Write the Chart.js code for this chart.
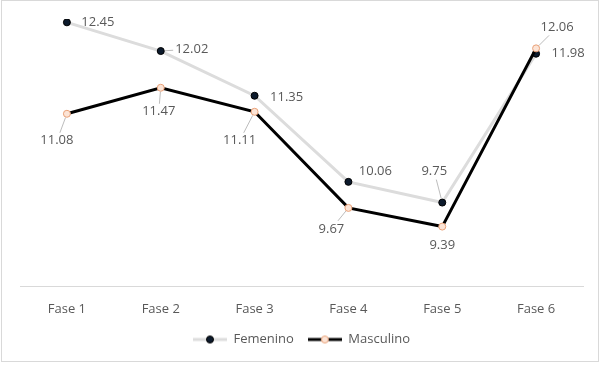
<!DOCTYPE html>
<html>
<head>
<meta charset="utf-8">
<script src="https://cdn.jsdelivr.net/npm/chart.js@4"></script>
<style>
  html, body { margin: 0; padding: 0; background: #fff; }
  #wrap { width: 603px; height: 365px; position: relative; }
</style>
</head>
<body>
<div id="wrap"><canvas id="chart"></canvas></div>
<script>
const categories = ['Fase 1', 'Fase 2', 'Fase 3', 'Fase 4', 'Fase 5', 'Fase 6']
const femenino = [12.45, 12.02, 11.35, 10.06, 9.75, 11.98]
const masculino = [11.08, 11.47, 11.11, 9.67, 9.39, 12.06]

// label placement relative to the point: [dx, dy, leader line?]
const femLabelPos = [[31, 0, false], [31, -2, true], [32, 2, false], [27, -11, false], [-8, -31, true], [32, 0, false]]
const masLabelPos = [[-10, 27, true], [-2, 24, true], [-15, 29, true], [-17, 21, true], [0, 19, false], [21, -21, true]]

const FONT = '"Open Sans", "Liberation Sans", sans-serif'
const TEXT = '#595959'

const femStyle = { line: '#dcdcdc', fill: '#0c1a2c', border: '#000000' }
const masStyle = { line: '#000000', fill: '#fce4d6', border: '#e9a178' }

const legendIcon = (s) => {
    const c = document.createElement('canvas')
    c.width = 34
    c.height = 10
    const g = c.getContext('2d')
    g.strokeStyle = s.line
    g.lineWidth = 3
    g.beginPath()
    g.moveTo(0, 5)
    g.lineTo(34, 5)
    g.stroke()
    g.beginPath()
    g.arc(17, 5, 3.5, 0, Math.PI * 2)
    g.fillStyle = s.fill
    g.fill()
    g.lineWidth = 1
    g.strokeStyle = s.border
    g.stroke()
    return c
}

const dataLabels = {
    id: 'dataLabels',
    afterDatasetsDraw(chart) {
        const ctx = chart.ctx
        ctx.save()
        ctx.font = '13px ' + FONT
        ctx.textAlign = 'center'
        ctx.textBaseline = 'middle'
        chart.data.datasets.forEach((ds, di) => {
            const meta = chart.getDatasetMeta(di)
            const pos = ds.labelPos
            meta.data.forEach((pt, i) => {
                const [dx, dy, leader] = pos[i]
                const text = ds.data[i].toFixed(2)
                const cx = pt.x + dx
                const cy = pt.y + dy
                if (leader) {
                    const hw = ctx.measureText(text).width / 2 + 2
                    const hh = 8
                    const vx = pt.x - cx
                    const vy = pt.y - cy
                    const t = Math.min(Math.abs(vx) > 0 ? hw / Math.abs(vx) : Infinity, Math.abs(vy) > 0 ? hh / Math.abs(vy) : Infinity)
                    const ex = cx + vx * t
                    const ey = cy + vy * t
                    const len = Math.hypot(vx, vy)
                    const sx = pt.x - vx / len * 4
                    const sy = pt.y - vy / len * 4
                    ctx.strokeStyle = '#a6a6a6'
                    ctx.lineWidth = 0.75
                    ctx.beginPath()
                    ctx.moveTo(ex, ey)
                    ctx.lineTo(sx, sy)
                    ctx.stroke()
                }
                ctx.fillStyle = TEXT
                ctx.fillText(text, cx, cy)
            })
        })
        ctx.restore()
    }
}

const frame = {
    id: 'frame',
    afterDraw(chart) {
        const ctx = chart.ctx
        ctx.save()
        ctx.strokeStyle = '#d9d9d9'
        ctx.lineWidth = 1
        ctx.strokeRect(1.5, 0.5, 597, 361)
        ctx.restore()
    }
}

const render = () => {
    new Chart(document.getElementById('chart'), {
        type: 'line',
        data: {
            labels: categories,
            datasets: [{
                label: 'Femenino',
                data: femenino,
                labelPos: femLabelPos,
                borderColor: femStyle.line,
                borderWidth: 3,
                pointRadius: 3.5,
                pointBackgroundColor: femStyle.fill,
                pointBorderColor: femStyle.border,
                pointBorderWidth: 1,
                pointStyle: 'circle',
                legendIcon: legendIcon(femStyle),
                order: 1
            }, {
                label: 'Masculino',
                data: masculino,
                labelPos: masLabelPos,
                borderColor: masStyle.line,
                borderWidth: 3,
                pointRadius: 3.5,
                pointBackgroundColor: masStyle.fill,
                pointBorderColor: masStyle.border,
                pointBorderWidth: 1,
                pointStyle: 'circle',
                legendIcon: legendIcon(masStyle),
                order: 0
            }]
        },
        options: {
            responsive: true,
            maintainAspectRatio: false,
            animation: false,
            layout: { padding: { left: 20, right: 20, top: 19, bottom: 9 } },
            scales: {
                x: {
                    offset: true,
                    grid: { display: false, drawTicks: false, offset: true },
                    border: { display: true, color: '#d9d9d9', width: 1 },
                    ticks: { color: TEXT, font: { family: FONT, size: 13 }, padding: 15 },
                    afterFit: (scale) => { scale.height = 33 }
                },
                y: { display: false, min: 8.5, max: 12.5 }
            },
            plugins: {
                tooltip: { enabled: false },
                legend: {
                    position: 'bottom',
                    labels: {
                        color: TEXT,
                        font: { family: FONT, size: 13 },
                        usePointStyle: true,
                        pointStyleWidth: 34,
                        padding: 14,
                        generateLabels: (chart) => chart.data.datasets.map((ds, i) => ({
                            text: ds.label,
                            pointStyle: ds.legendIcon,
                            fillStyle: ds.pointBackgroundColor,
                            strokeStyle: ds.borderColor,
                            lineWidth: 0,
                            fontColor: TEXT,
                            datasetIndex: i
                        }))
                    }
                }
            }
        },
        plugins: [dataLabels, frame]
    })
}

document.addEventListener('DOMContentLoaded', render)
</script>
</body>
</html>
